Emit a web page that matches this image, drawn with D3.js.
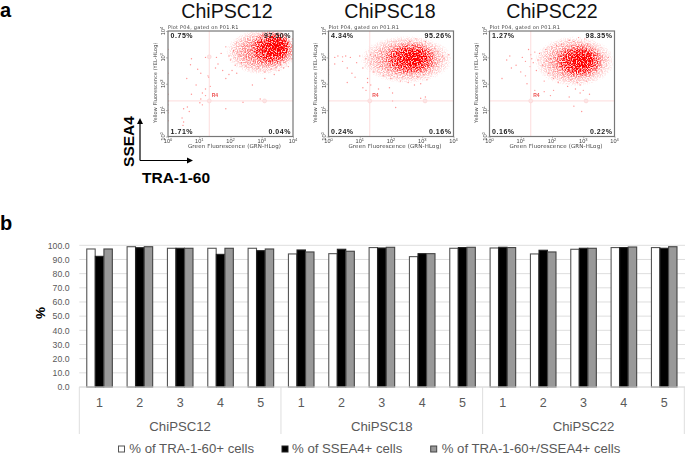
<!DOCTYPE html>
<html><head><meta charset="utf-8">
<script src="https://cdnjs.cloudflare.com/ajax/libs/d3/7.8.5/d3.min.js"></script>
<style>html,body{margin:0;padding:0;background:#fff}svg{display:block}text{font-family:"Liberation Sans",Arial,sans-serif}</style>
</head><body><svg id="c" width="685" height="456"></svg>
<script>
// ---- panel b data ----
const lines = ["ChiPSC12","ChiPSC18","ChiPSC22"];
const replicates = ["1","2","3","4","5"];
const seriesNames = ["% of TRA-1-60+ cells","% of SSEA4+ cells","% of TRA-1-60+/SSEA4+ cells"];
const seriesFill = ["#ffffff","#000000","#999999"];
const seriesStroke = ["#555555","#222222","#444444"];
const tra160 = [97.4,99.0,97.9,97.9,97.9, 93.9,94.1,98.4,92.0,97.9, 98.1,93.9,97.2,98.4,98.4];
const ssea4  = [92.2,98.3,97.9,93.6,96.2, 96.7,97.2,98.1,94.1,98.4, 98.6,96.5,97.9,98.4,97.9];
const both   = [97.4,99.0,97.9,97.9,97.4, 95.3,95.8,98.6,94.1,98.6, 98.4,95.3,97.9,98.8,99.0];
const yTicks = [0,10,20,30,40,50,60,70,80,90,100];
// ---- panel a data (log10 units) ----
const quadrants12 = ["0.75%","97.50%","1.71%","0.04%"];
const quadrants18 = ["4.34%","95.26%","0.24%","0.16%"];
const quadrants22 = ["1.27%","98.35%","0.16%","0.22%"];
// density clouds: centre x, centre y, radius x, radius y, strength
const cloud12 = [[3.0,3.2,1.2,.9,.45],[3.35,3.35,.7,.7,.75],[3.5,3.42,.42,.48,.9]];
const cloud18 = [[2.5,2.92,1.55,.95,.45],[2.65,2.95,.85,.62,.75],[2.72,2.97,.42,.36,.9]];
const cloud22 = [[2.72,2.85,1.35,1.0,.45],[2.88,2.87,.78,.65,.75],[2.98,2.9,.4,.4,.9]];
const dots12 = [[1.2,3.0],[.75,2.95],[.72,2.72],[.95,2.55],[1.05,2.4],[1.3,2.25],[1.28,2.3],[.9,1.95],[.6,2.2],[.75,1.6],[1.1,1.65],[1.2,1.8],[1.02,1.28],[1.05,1.42],[.5,1.05],[.62,1.12],[.68,.95],[.45,.7],[.5,.55],[.48,.42],[1.1,1.2],[1.35,1.9],[1.2,1.55],[1.52,2.6],[1.6,2.75],[1.75,2.5],[1.85,2.2],[1.95,2.35],[2.05,2.5],[2.15,2.7],[2.2,2.4],[1.55,3.0],[1.7,3.15],[1.85,3.4],[1.95,3.05],[2.1,3.25],[2.0,2.9],[2.2,3.55],[2.3,3.1],[2.35,2.8],[2.45,3.45],[2.5,2.65],[2.55,3.7],[2.6,3.0],[2.65,3.3],[2.7,2.75],[2.75,3.55],[2.8,3.1],[2.85,3.8],[2.9,2.6],[2.95,3.35],[3.0,2.85],[3.05,3.9],[3.1,2.45],[3.15,3.7],[3.2,2.7],[3.25,3.95],[3.3,2.55],[3.35,2.85],[3.4,2.35],[3.45,2.62],[3.5,3.92],[3.55,2.5],[3.6,2.72],[3.65,3.9],[3.7,2.6],[3.75,2.8],[3.8,3.85],[3.85,2.65],[3.9,2.95],[3.95,3.1],[3.98,3.45],[3.98,3.7],[3.97,2.95],[2.95,1.42],[2.4,1.3],[1.85,1.05],[2.7,1.95],[3.1,2.2],[0,1.2],[0,1.0],[0,.9],[0,1.6],[0,2.4],[0,3.3],[0,.6],[0,1.35]];
const dots18 = [[.2,3.0],[.3,3.05],[.45,3.02],[.55,3.05],[.7,3.0],[.2,2.75],[.45,2.85],[.6,2.6],[.75,2.4],[.9,2.8],[1.0,3.05],[1.1,2.6],[1.2,2.95],[1.25,2.2],[1.35,2.75],[1.35,3.1],[1.45,2.45],[1.5,3.05],[1.55,2.85],[1.65,2.65],[1.7,3.2],[1.75,2.3],[1.85,3.0],[1.9,2.55],[1.95,3.3],[2.0,2.2],[2.05,2.8],[2.1,3.4],[2.15,2.4],[2.2,3.1],[2.3,2.1],[2.35,3.5],[2.4,2.5],[2.45,3.35],[2.55,2.05],[2.6,3.6],[2.65,2.3],[2.7,3.45],[2.75,1.95],[2.8,3.7],[2.85,2.25],[2.9,3.5],[2.95,2.0],[3.0,3.45],[3.05,2.35],[3.1,3.6],[3.15,2.15],[3.2,3.3],[3.25,2.45],[3.3,3.15],[3.35,2.6],[3.4,3.35],[3.45,2.75],[3.5,3.2],[3.55,2.9],[3.65,3.05],[3.7,2.95],[3.85,3.1],[.6,2.05],[.85,2.25],[1.1,1.85],[1.2,1.75],[1.25,2.05],[1.35,1.95],[1.6,1.8],[1.95,1.85],[2.05,1.65],[2.15,1.1],[2.05,1.35],[2.95,1.45],[3.1,1.5],[0,2.95],[0,2.85],[0,2.7],[0,2.55],[0,2.35],[0,3.15],[0,3.05]];
const dots22 = [[.55,2.9],[.65,3.05],[.7,2.6],[.85,2.7],[1.0,2.45],[1.05,3.0],[1.15,2.3],[1.15,2.85],[1.25,3.3],[1.3,2.65],[1.32,3.1],[1.35,2.95],[1.4,2.8],[1.45,3.2],[1.5,2.5],[1.55,2.9],[1.6,3.15],[1.7,2.7],[1.75,2.1],[1.8,3.3],[1.9,2.4],[1.95,2.95],[2.0,3.4],[2.05,2.2],[2.1,2.7],[2.15,3.45],[2.2,2.05],[2.3,3.5],[2.35,2.35],[2.4,3.2],[2.5,1.9],[2.55,3.65],[2.6,2.15],[2.7,3.6],[2.75,1.8],[2.8,2.05],[2.85,3.75],[2.9,1.95],[2.95,3.5],[3.0,1.75],[3.05,3.7],[3.1,2.1],[3.15,3.5],[3.2,2.3],[3.25,3.4],[3.3,2.5],[3.4,3.3],[3.45,2.6],[3.5,3.15],[3.55,2.85],[3.6,3.05],[3.7,2.9],[3.8,3.0],[1.2,2.0],[.4,2.2],[1.45,1.75],[1.75,1.7],[2.05,1.75],[2.55,1.5],[2.9,1.65],[2.7,1.15],[2.95,.95],[3.2,1.6],[1.95,1.55]];

const RED = "#ff1414";
const svg = d3.select("#c");
const defs = svg.append("defs");
const grad = defs.append("radialGradient").attr("id","blob");
grad.selectAll("stop").data([[0,.95],[.4,.7],[.7,.38],[.88,.16],[1,0]]).join("stop")
  .attr("offset",d=>d[0]).attr("stop-color",RED).attr("stop-opacity",d=>d[1]);
defs.append("filter").attr("id","soft").append("feGaussianBlur").attr("stdDeviation",.28);
// grain texture: turns the smooth density clouds into a speckle of event dots (opaque red-on-white output)
const fg = defs.append("filter").attr("id","grain").attr("filterUnits","userSpaceOnUse")
  .attr("color-interpolation-filters","sRGB");
fg.append("feTurbulence").attr("type","fractalNoise").attr("baseFrequency",.8).attr("numOctaves",1).attr("seed",4).attr("result","n");
fg.append("feColorMatrix").attr("in","n").attr("type","matrix")
  .attr("values","0 0 0 0 0  0 0 0 0 0  0 0 0 0 0  3.4 0 0 0 -1.2").attr("result","na");
fg.append("feComposite").attr("in","SourceAlpha").attr("in2","na").attr("operator","arithmetic")
  .attr("k1",.95).attr("k2",.15).attr("k3",0).attr("k4",-.03).attr("result","m");
fg.append("feColorMatrix").attr("in","m").attr("type","matrix")
  .attr("values","0 0 0 0 1  0 0 0 -1.9 1  0 0 0 -1.9 1  0 0 0 0 1").attr("result","o");
fg.append("feGaussianBlur").attr("in","o").attr("stdDeviation",.5);

// panel letters
svg.append("text").attr("x",0).attr("y",17).attr("font-size",20).attr("font-weight","bold").text("a");
svg.append("text").attr("x",0).attr("y",230).attr("font-size",20).attr("font-weight","bold").text("b");

// ---- panel a ----
const panels = [
 {name:lines[0],x0:168,cx:227,q:quadrants12,c:cloud12,d:dots12},
 {name:lines[1],x0:328.5,cx:390,q:quadrants18,c:cloud18,d:dots18},
 {name:lines[2],x0:489.5,cx:552,q:quadrants22,c:cloud22,d:dots22}];
const logTicks=[0,1,2,3,4];
panels.forEach((p,i)=>{
  svg.append("text").attr("x",p.cx).attr("y",17.8).attr("text-anchor","middle").attr("font-size",19.6).attr("fill","#111").text(p.name);
  const W=125,H=105.5,T=31;
  const x=d3.scaleLinear().domain([0,4]).range([p.x0,p.x0+W]);
  const y=d3.scaleLinear().domain([0,4]).range([T+H,T]);
  defs.append("clipPath").attr("id","clip"+i).append("rect").attr("x",p.x0).attr("y",T).attr("width",W).attr("height",H);
  const g=svg.append("g");
  const inner=g.append("g").attr("clip-path",`url(#clip${i})`);
  inner.append("g").attr("filter","url(#grain)").selectAll("ellipse").data(p.c).join("ellipse")
    .attr("cx",d=>x(d[0])).attr("cy",d=>y(d[1]))
    .attr("rx",d=>x(d[2])-x(0)).attr("ry",d=>y(0)-y(d[3]))
    .attr("fill","url(#blob)").attr("opacity",d=>d[4]);
  inner.append("g").attr("filter","url(#soft)").selectAll("circle").data(p.d).join("circle")
    .attr("cx",d=>x(d[0])).attr("cy",d=>y(d[1])).attr("r",.7).attr("fill","#ff4a4a").attr("opacity",.6);
  const lab=g.append("g").attr("filter","url(#soft)");
  // gates
  const gx=1.32, gy=1.35;
  lab.append("line").attr("x1",x(gx)).attr("x2",x(gx)).attr("y1",T).attr("y2",T+H).attr("stroke","#fcd4d4").attr("stroke-width",.8);
  lab.append("line").attr("x1",p.x0).attr("x2",p.x0+W).attr("y1",y(gy)).attr("y2",y(gy)).attr("stroke","#fcd4d4").attr("stroke-width",.8);
  [[gx,gy],[3.09,gy],[gx,3.02]].slice(0,i==0?3:2).forEach(c=>lab.append("circle").attr("cx",x(c[0])).attr("cy",y(c[1])).attr("r",2).attr("fill","#fde4e4").attr("stroke","#fbcfcf").attr("stroke-width",.5));
  lab.append("text").attr("x",x(gx)+2.5).attr("y",y(gy)-4).attr("font-size",5).attr("font-weight","bold").attr("fill","#ee5555").text("R4");
  // frame
  lab.append("rect").attr("x",p.x0).attr("y",T).attr("width",W).attr("height",H).attr("fill","none").attr("stroke","#777").attr("stroke-width",1.2);
  // axes
  const ax=lab.append("g").attr("transform",`translate(0,${T+H})`).call(d3.axisBottom(x).tickValues(logTicks).tickSize(2).tickFormat(""));
  const ay=lab.append("g").attr("transform",`translate(${p.x0},0)`).call(d3.axisLeft(y).tickValues(logTicks).tickSize(2).tickFormat(""));
  [ax,ay].forEach(a=>{a.select(".domain").remove();a.selectAll("line").attr("stroke","#888").attr("stroke-width",.6);});
  logTicks.forEach(t=>{
    const a=lab.append("text").attr("x",x(t)).attr("y",T+H+6.5).attr("text-anchor","middle").attr("font-size",5.6).attr("fill","#444").text("10");
    a.append("tspan").attr("dy",-1.7).attr("font-size",4).text(t);
    const b=lab.append("text").attr("transform",`translate(${p.x0-3},${y(t)}) rotate(-90)`).attr("text-anchor","middle").attr("font-size",5.6).attr("fill","#444").text("10");
    b.append("tspan").attr("dy",-1.7).attr("font-size",4).text(t);
  });
  lab.append("text").attr("x",p.x0).attr("y",T-2.2).attr("font-size",5).attr("letter-spacing",.22).attr("fill","#444").style("font-family","DejaVu Sans").text("Plot P04, gated on P01.R1");
  lab.append("text").attr("x",p.x0+W/2+4).attr("y",T+H+11.2).attr("text-anchor","middle").attr("font-size",5.5).attr("letter-spacing",.15).attr("fill","#444").style("font-family","DejaVu Sans").text("Green Fluorescence (GRN-HLog)");
  lab.append("text").attr("transform",`translate(${p.x0-11.5},${T+H/2-1}) rotate(-90)`).attr("text-anchor","middle").attr("font-size",5.1).attr("fill","#444").style("font-family","DejaVu Sans").text("Yellow Fluorescence (YEL-HLog)");
  // quadrant labels
  const qs={"font-size":7,"font-weight":"bold","fill":"#222","letter-spacing":.55};
  const put=(tx,ty,anchor,s)=>{const e=lab.append("text").attr("x",tx).attr("y",ty).attr("text-anchor",anchor).text(s);Object.entries(qs).forEach(([k,v])=>e.attr(k,v));};
  put(p.x0+2.5,T+6.5,"start",p.q[0]); put(p.x0+W-2,T+6.5,"end",p.q[1]);
  put(p.x0+2.5,T+H-3,"start",p.q[2]); put(p.x0+W-2,T+H-3,"end",p.q[3]);
});

// axis key
const ink="#000";
svg.append("path").attr("d","M140 160.5H190M140 160.5V121").attr("fill","none").attr("stroke",ink).attr("stroke-width",1.2);
svg.append("path").attr("d","M193 160.5L187 157.5V163.5ZM140 118L137 124H143Z").attr("fill",ink);
svg.append("text").attr("x",142).attr("y",183).attr("font-size",15.5).attr("font-weight","bold").text("TRA-1-60");
svg.append("text").attr("transform","translate(133.5,141.5) rotate(-90)").attr("text-anchor","middle").attr("font-size",15.5).attr("font-weight","bold").text("SSEA4");

// ---- panel b ----
const groupIds=d3.range(lines.length*replicates.length);
const bx=d3.scaleBand().domain(groupIds).range([79.3,684.3]);
const inner=d3.scaleBand().domain(seriesNames).range([7.3,33.2]).padding(0.02);
const by=d3.scaleLinear().domain([0,100]).range([387,245.3]);
svg.append("g").selectAll("line").data(yTicks).join("line")
  .attr("x1",79.3).attr("x2",685).attr("y1",d=>by(d)).attr("y2",d=>by(d))
  .attr("stroke","#dedede").attr("stroke-width",1);
svg.append("g").attr("transform","translate(72,0)").call(d3.axisLeft(by).tickValues(yTicks).tickSize(0).tickFormat(d3.format(".1f")))
  .call(a=>a.select(".domain").remove())
  .call(a=>a.selectAll("text").attr("font-size",8.7).attr("fill","#595959").attr("x",-2.5).style("font-family","Liberation Sans"));
[tra160,ssea4,both].forEach((vals,s)=>{
  svg.append("g").selectAll("rect").data(vals).join("rect")
    .attr("x",(d,i)=>bx(i)+inner(seriesNames[s]))
    .attr("width",inner.bandwidth())
    .attr("y",d=>by(d)).attr("height",d=>by(0)-by(d))
    .attr("fill",seriesFill[s]).attr("stroke",seriesStroke[s]).attr("stroke-width",1.1);
});
// category axis
svg.append("g").selectAll("text").data(groupIds).join("text")
  .attr("x",d=>bx(d)+bx.bandwidth()/2).attr("y",407).attr("text-anchor","middle")
  .attr("font-size",12.5).attr("fill","#595959").text(d=>replicates[d%replicates.length]);
const gW=bx.bandwidth()*replicates.length;
svg.append("g").selectAll("text").data(lines).join("text")
  .attr("x",(d,i)=>bx(i*5)+gW/2).attr("y",431).attr("text-anchor","middle")
  .attr("font-size",13.2).attr("fill","#595959").text(d=>d);
svg.append("g").selectAll("line").data([0,5,10,14]).join("line")
  .attr("x1",d=>d==14?684.3:bx(d)).attr("x2",d=>d==14?684.3:bx(d)).attr("y1",387).attr("y2",434)
  .attr("stroke","#dedede").attr("stroke-width",1);
svg.append("line").attr("x1",79.3).attr("x2",685).attr("y1",387).attr("y2",387).attr("stroke","#dedede");
svg.append("text").attr("transform","translate(45,313) rotate(-90)").attr("text-anchor","middle").attr("font-size",13.5).attr("font-weight","bold").text("%");
// legend
const legSq=[118.5,282,430.7], legTx=[129.3,292,441.7];
seriesNames.forEach((n,i)=>{
  svg.append("rect").attr("x",legSq[i]).attr("y",446).attr("width",6).attr("height",6)
    .attr("fill",seriesFill[i]).attr("stroke",seriesStroke[i]).attr("stroke-width",1);
  svg.append("text").attr("x",legTx[i]).attr("y",453).attr("font-size",13.2).attr("fill","#595959").text(n);
});
</script></body></html>
